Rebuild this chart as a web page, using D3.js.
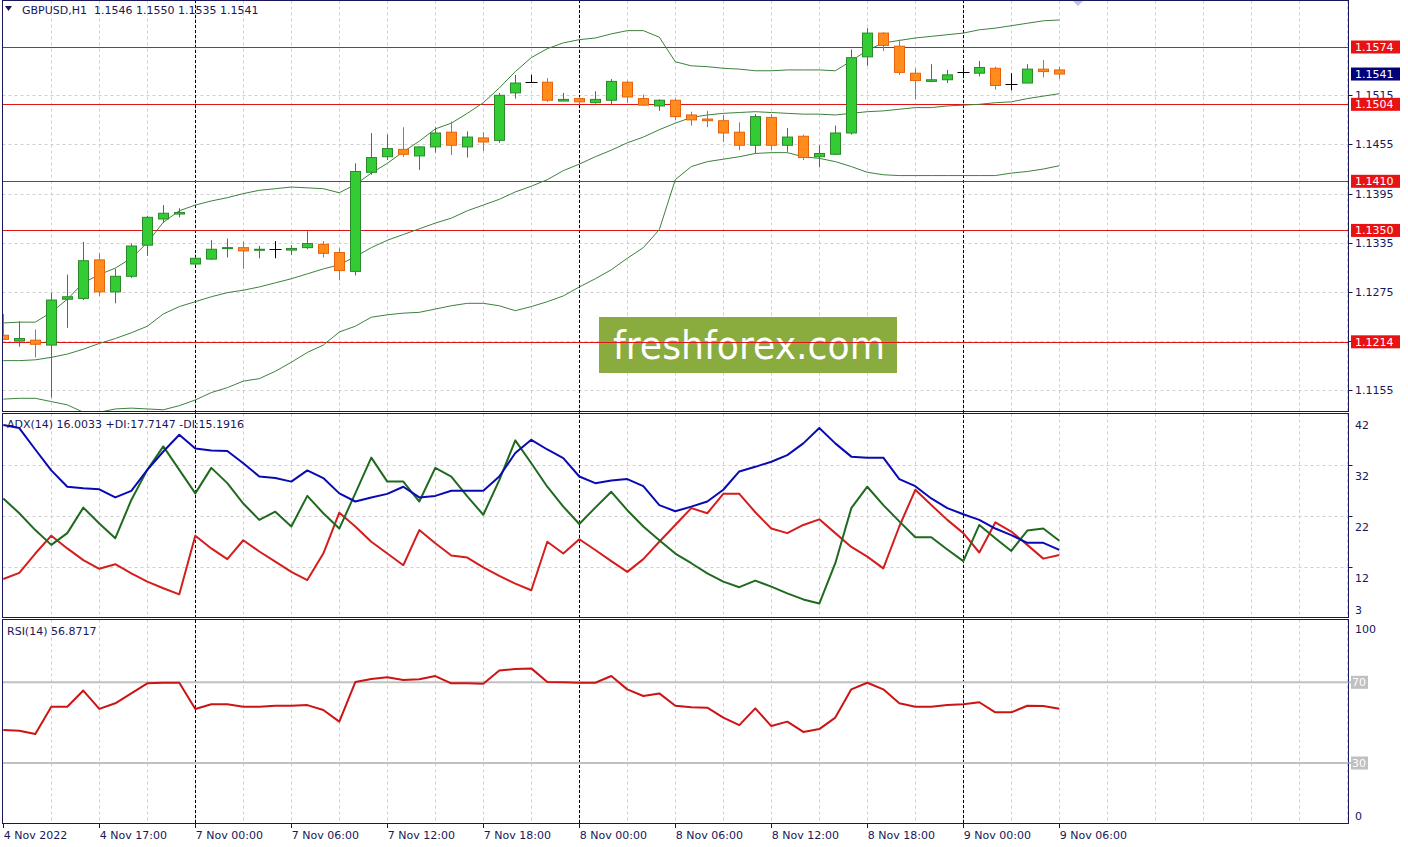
<!DOCTYPE html>
<html><head><meta charset="utf-8">
<script src="https://cdn.jsdelivr.net/npm/d3@7"></script>
<style>body{margin:0;background:#fff;} svg{display:block;font-family:"DejaVu Sans",sans-serif;}</style>
</head><body><svg id="c" width="1408" height="847"></svg>
<script>
// ---------------- DATA ----------------
const symbolTitle = "GBPUSD,H1  1.1546 1.1550 1.1535 1.1541";
const adxTitle = "ADX(14) 16.0033 +DI:17.7147 -DI:15.1916";
const rsiTitle = "RSI(14) 56.8717";
const opens  = [1.1222,1.1215,1.1216,1.1210,1.1266,1.1267,1.1314,1.1275,1.1294,1.1332,1.1364,1.1370,
  1.1309,1.1315,1.1328,1.1329,1.1326,1.1327,1.1326,1.1329,1.1333,1.1323,1.1300,1.1421,1.1440,1.1449,1.1441,1.1452,1.1470,1.1452,1.1463,1.1460,1.1518,1.1531,1.1531,1.1508,
  1.1511,1.1506,1.1509,1.1531,1.1511,1.1502,1.1509,1.1491,1.1486,1.1484,1.1470,1.1454,1.1488,1.1454,1.1465,1.1440,1.1443,1.1469,1.1562,1.1591,1.1575,1.1542,1.1532,1.1534,
  1.1543,1.1542,1.1548,1.1529,1.1530,1.1547,1.1546];
const highs  = [1.1248,1.1239,1.1229,1.1274,1.1296,1.1336,1.1322,1.1303,1.1334,1.1368,1.1381,1.1377,
  1.1317,1.1338,1.1340,1.1336,1.1331,1.1337,1.1332,1.1349,1.1337,1.1328,1.1432,1.1469,1.1467,1.1476,1.1453,1.1476,1.1483,1.1471,1.1470,1.1518,1.1540,1.1540,1.1536,1.1518,
  1.1513,1.1520,1.1535,1.1533,1.1516,1.1510,1.1511,1.1495,1.1496,1.1491,1.1482,1.1492,1.1492,1.1475,1.1467,1.1454,1.1478,1.1571,1.1597,1.1592,1.1583,1.1548,1.1553,1.1546,
  1.1550,1.1557,1.1550,1.1542,1.1553,1.1558,1.1550];
const lows   = [1.1216,1.1208,1.1195,1.1146,1.1231,1.1265,1.1270,1.1261,1.1292,1.1319,1.1359,1.1366,
  1.1308,1.1314,1.1317,1.1303,1.1316,1.1316,1.1320,1.1327,1.1317,1.1289,1.1295,1.1418,1.1436,1.1440,1.1424,1.1445,1.1442,1.1439,1.1447,1.1457,1.1511,1.1530,1.1507,1.1508,
  1.1504,1.1505,1.1504,1.1506,1.1502,1.1496,1.1485,1.1478,1.1476,1.1458,1.1448,1.1444,1.1448,1.1446,1.1436,1.1427,1.1442,1.1467,1.1551,1.1569,1.1540,1.1510,1.1531,1.1530,
  1.1536,1.1538,1.1522,1.1521,1.1530,1.1537,1.1535];
const closes = [1.1217,1.1218,1.1211,1.1265,1.1269,1.1313,1.1275,1.1294,1.1331,1.1366,1.1371,1.1372,
  1.1316,1.1327,1.1329,1.1325,1.1327,1.1327,1.1328,1.1334,1.1322,1.1301,1.1422,1.1439,1.1450,1.1443,1.1452,1.1469,1.1454,1.1464,1.1458,1.1515,1.1530,1.1531,1.1509,1.1510,
  1.1507,1.1510,1.1532,1.1513,1.1503,1.1509,1.1489,1.1485,1.1484,1.1469,1.1454,1.1489,1.1454,1.1464,1.1439,1.1444,1.1469,1.1561,1.1591,1.1576,1.1543,1.1533,1.1534,1.1540,
  1.1543,1.1549,1.1527,1.1529,1.1547,1.1544,1.1541];
const bbUpper = [1.1237,1.1238,1.1238,1.1250,1.1266,1.1286,1.1296,1.1304,1.1316,1.1335,1.1360,1.1374,
  1.1381,1.1386,1.1390,1.1395,1.1399,1.1401,1.1403,1.1402,1.1401,1.1396,1.1406,1.1420,1.1432,1.1446,1.1459,1.1474,1.1481,1.1493,1.1506,1.1524,1.1544,1.1561,1.1572,1.1579,
  1.1583,1.1585,1.1590,1.1594,1.1594,1.1586,1.1556,1.1551,1.1550,1.1548,1.1547,1.1545,1.1545,1.1546,1.1546,1.1546,1.1545,1.1557,1.1570,1.1579,1.1582,1.1585,1.1587,1.1589,
  1.1591,1.1595,1.1597,1.1600,1.1603,1.1606,1.1607];
const bbMiddle = [1.1191,1.1191,1.1192,1.1195,1.1199,1.1205,1.1212,1.1218,1.1225,1.1233,1.1248,1.1257,
  1.1263,1.1269,1.1274,1.1277,1.1281,1.1286,1.1291,1.1297,1.1303,1.1308,1.1318,1.1329,1.1338,1.1345,1.1352,1.1359,1.1365,1.1374,1.1381,1.1388,1.1397,1.1404,1.1412,1.1423,
  1.1431,1.1440,1.1448,1.1457,1.1464,1.1473,1.1481,1.1488,1.1491,1.1493,1.1494,1.1495,1.1494,1.1493,1.1492,1.1492,1.1491,1.1493,1.1495,1.1496,1.1498,1.1500,1.1500,1.1502,
  1.1503,1.1504,1.1506,1.1507,1.1511,1.1514,1.1517];
const bbLower = [1.1144,1.1145,1.1145,1.1141,1.1137,1.1128,1.1128,1.1132,1.1133,1.1132,1.1131,1.1136,
  1.1143,1.1152,1.1158,1.1166,1.1169,1.1178,1.1189,1.1201,1.1210,1.1226,1.1233,1.1244,1.1247,1.1249,1.1250,1.1254,1.1258,1.1261,1.1261,1.1258,1.1252,1.1257,1.1263,1.1270,
  1.1281,1.1291,1.1302,1.1316,1.1329,1.1351,1.1412,1.1428,1.1434,1.1437,1.1440,1.1444,1.1445,1.1445,1.1440,1.1438,1.1434,1.1428,1.1421,1.1418,1.1417,1.1417,1.1417,1.1417,
  1.1417,1.1417,1.1417,1.1420,1.1422,1.1425,1.1429];
const adx = [39.9,39.3,35.1,31.0,27.8,27.5,27.3,25.7,27.0,31.1,34.7,38.0,
  35.3,34.9,34.8,32.4,29.8,29.5,28.8,31.0,29.5,26.5,24.9,25.7,26.4,27.8,25.7,26.0,27.0,27.0,27.0,29.8,34.4,37.0,35.1,33.4,
  29.8,28.5,29.0,29.3,27.9,24.2,23.0,23.9,24.9,27.2,30.8,31.7,32.7,34.0,36.3,39.3,36.3,33.7,33.5,33.5,29.3,27.9,25.5,23.6,
  22.4,21.3,19.6,18.3,16.8,16.8,15.4];
const plusDI = [25.5,22.6,19.3,16.4,18.7,23.7,20.6,17.7,25.2,31.1,35.7,31.1,
  26.5,31.5,28.5,24.5,21.3,22.9,20.0,26.0,22.6,19.6,26.5,33.5,28.8,28.8,24.9,31.5,29.8,25.9,22.3,29.1,36.9,32.4,27.8,23.9,
  20.5,23.7,26.8,23.2,20.0,17.3,14.7,12.8,10.8,9.2,8.1,9.4,8.2,6.9,5.7,4.9,12.8,23.6,27.8,24.2,21.0,17.9,17.9,15.5,
  13.2,20.3,17.7,15.2,19.2,19.6,17.2];
const minusDI = [9.7,10.9,14.7,18.2,15.7,13.4,11.7,12.6,10.8,9.2,7.9,6.7,
  18.2,15.7,13.6,17.3,15.1,13.1,11.1,9.5,14.7,22.7,20.0,17.0,14.7,12.4,19.3,16.7,14.3,13.9,12.0,10.3,8.8,7.5,17.0,14.7,
  17.5,15.4,13.2,11.1,13.6,17.0,20.3,23.6,22.6,26.4,26.4,22.8,19.6,18.7,20.3,21.4,18.7,16.0,14.1,11.8,20.0,27.2,24.2,21.3,
  18.7,14.9,20.8,19.0,16.4,13.7,14.4];
const rsi = [46.3,46.0,44.4,57.9,57.9,65.9,56.8,59.6,64.5,69.5,69.8,69.8,
  56.8,59.1,59.1,57.9,57.9,58.4,58.4,58.7,56.3,50.5,70.1,71.6,72.5,71.1,71.5,73.1,69.5,69.5,69.3,75.8,76.6,76.9,70.1,70.0,
  69.8,69.8,73.1,66.5,63.2,64.5,58.4,57.6,57.4,52.5,48.8,57.1,48.3,50.5,45.4,46.8,52.5,66.5,69.8,66.5,59.6,57.9,57.9,58.7,
  59.1,60.1,55.1,55.1,58.4,58.2,56.87];
const timeLabels = ["4 Nov 2022","4 Nov 17:00","7 Nov 00:00","7 Nov 06:00","7 Nov 12:00","7 Nov 18:00",
  "8 Nov 00:00","8 Nov 06:00","8 Nov 12:00","8 Nov 18:00","9 Nov 00:00","9 Nov 06:00"];
const timeLabelBars = [0,6,12,18,24,30,36,42,48,54,60,66];
const daySeparatorBars = [12,36,60];
const priceTicks = [1.1515,1.1455,1.1395,1.1335,1.1275,1.1215,1.1155];
const levelLines = [1.1574,1.1504,1.1410,1.1350,1.1214];
const lastPrice = 1.1541;
const adxTicks = [42,32,22,12,3];
const rsiTicks = [100,70,30,0];
const rsiLevels = [70,30];

// ---------------- LAYOUT ----------------
const svg = d3.select('#c');
const L = 2.5, R = 1348.5;
const P = {main:[0.5,411.5], adx:[413.5,617.5], rsi:[619.5,823.5]};
const x = d3.scaleLinear().domain([0,84]).range([3.3,1347.3]);
const yP = d3.scaleLinear().domain([1.11295,1.16314]).range([411,0]);
const yA = d3.scaleLinear().domain([12,42]).range([567.3,414.3]);
const yR = d3.scaleLinear().domain([30,70]).range([763,682.3]);
const navy = "#17175a", gridCol = "#cfcfcf";
const px = v => Math.round(v)+0.5;

const defs = svg.append('defs');
Object.entries(P).forEach(([k,[t,b]])=>{
  defs.append('clipPath').attr('id','clip-'+k).append('rect')
    .attr('x',L).attr('y',t).attr('width',R-L).attr('height',b-t);
});

// vertical grid
const vg = d3.range(3,85,3).filter(i=>x(i)<R-1);
Object.entries(P).forEach(([k,[t,b]])=>{
  svg.append('g').selectAll('line').data(vg).join('line')
    .attr('x1',d=>px(x(d))).attr('x2',d=>px(x(d))).attr('y1',t).attr('y2',b)
    .attr('stroke',gridCol).attr('stroke-dasharray','3,3');
});
// horizontal grid main
svg.append('g').attr('clip-path','url(#clip-main)').selectAll('line').data(priceTicks).join('line')
  .attr('x1',L).attr('x2',R).attr('y1',d=>px(yP(d))).attr('y2',d=>px(yP(d)))
  .attr('stroke',gridCol).attr('stroke-dasharray','3,3');
// horizontal grid adx
svg.append('g').selectAll('line').data([32,22,12]).join('line')
  .attr('x1',L).attr('x2',R).attr('y1',d=>px(yA(d))).attr('y2',d=>px(yA(d)))
  .attr('stroke',gridCol).attr('stroke-dasharray','3,3');
// day separators
svg.append('g').selectAll('line').data(daySeparatorBars).join('line')
  .attr('x1',d=>px(x(d))).attr('x2',d=>px(x(d))).attr('y1',0).attr('y2',824)
  .attr('stroke','#000').attr('stroke-dasharray','3,2');

// ---------------- MAIN PANE ----------------
const gm = svg.append('g').attr('clip-path','url(#clip-main)');
// watermark
gm.append('rect').attr('x',599).attr('y',317).attr('width',298).attr('height',56).attr('fill','#8aab3d');
gm.append('text').attr('x',613).attr('y',359).attr('fill','#fff').attr('font-size',39)
  .attr('textLength',272).attr('lengthAdjust','spacingAndGlyphs').text('freshforex.com');
// level lines
gm.selectAll('line.lvl').data(levelLines).join('line').attr('class','lvl')
  .attr('x1',L).attr('x2',R).attr('y1',d=>px(yP(d))).attr('y2',d=>px(yP(d)))
  .attr('stroke','#e01414').attr('stroke-width',1);
// bollinger bands
const bbLine = arr => d3.line().x((d,i)=>x(i)).y(d=>yP(d))(arr);
[bbUpper,bbMiddle,bbLower].forEach(arr=>{
  gm.append('path').attr('d',bbLine(arr)).attr('fill','none').attr('stroke','#3d803d').attr('stroke-width',1);
});
// candles
const bars = d3.range(opens.length).map(i=>({i,o:opens[i],h:highs[i],l:lows[i],c:closes[i]}));
const colOf = d => d.c>d.o ? ['#2a8a2a','#34cc34'] : d.c<d.o ? ['#e8620c','#ff8c1c'] : ['#000',null];
const cg = gm.append('g').selectAll('g').data(bars).join('g');
cg.append('line').attr('x1',d=>px(x(d.i))).attr('x2',d=>px(x(d.i)))
  .attr('y1',d=>yP(d.h)).attr('y2',d=>yP(d.l)).attr('stroke',d=>colOf(d)[0]);
cg.filter(d=>d.c!==d.o).append('rect')
  .attr('x',d=>Math.round(x(d.i))-5+0.5).attr('width',10)
  .attr('y',d=>yP(Math.max(d.o,d.c)))
  .attr('height',d=>Math.max(1,yP(Math.min(d.o,d.c))-yP(Math.max(d.o,d.c))))
  .attr('fill',d=>colOf(d)[1]).attr('stroke',d=>colOf(d)[0]);
cg.filter(d=>d.c===d.o).append('line')
  .attr('x1',d=>px(x(d.i))-6).attr('x2',d=>px(x(d.i))+6)
  .attr('y1',d=>px(yP(d.o))).attr('y2',d=>px(yP(d.o))).attr('stroke','#000');
// shift marker
svg.append('path').attr('d','M1072,0 L1084,0 L1078,6 Z').attr('fill','#b9c6de');

// ---------------- ADX PANE ----------------
const ga = svg.append('g').attr('clip-path','url(#clip-adx)');
const adxLine = d3.line().x((d,i)=>x(i)).y(d=>yA(d));
[[minusDI,'#d41e1e'],[plusDI,'#1f6a1f'],[adx,'#0a0ab4']].forEach(([arr,c])=>{
  ga.append('path').attr('d',adxLine(arr)).attr('fill','none').attr('stroke',c).attr('stroke-width',2).attr('stroke-linejoin','round');
});

// ---------------- RSI PANE ----------------
const gr = svg.append('g').attr('clip-path','url(#clip-rsi)');
gr.selectAll('line').data(rsiLevels).join('line')
  .attr('x1',L).attr('x2',R).attr('y1',d=>yR(d)).attr('y2',d=>yR(d))
  .attr('stroke','#c0c0c0').attr('stroke-width',2);
gr.append('path').attr('d',d3.line().x((d,i)=>x(i)).y(d=>yR(d))(rsi))
  .attr('fill','none').attr('stroke','#cc1414').attr('stroke-width',2).attr('stroke-linejoin','round');

// ---------------- FRAMES ----------------
Object.values(P).forEach(([t,b])=>{
  svg.append('rect').attr('x',L).attr('y',t).attr('width',R-L).attr('height',b-t)
    .attr('fill','none').attr('stroke',navy).attr('stroke-width',1);
});

// ---------------- AXES / LABELS ----------------
const ax = svg.append('g').attr('font-size',11).attr('fill',navy);
// price ticks
ax.selectAll('line.pt').data(priceTicks).join('line').attr('class','pt')
  .attr('x1',R).attr('x2',R+4).attr('y1',d=>px(yP(d))).attr('y2',d=>px(yP(d))).attr('stroke',navy);
ax.selectAll('text.pt').data(priceTicks).join('text').attr('class','pt')
  .attr('x',1355).attr('y',d=>yP(d)).attr('dy','0.36em').text(d=>d.toFixed(4));
// level labels
const lv = svg.append('g').attr('font-size',11);
lv.selectAll('rect').data(levelLines).join('rect')
  .attr('x',1351).attr('y',d=>yP(d)-6.5).attr('width',49).attr('height',13).attr('fill','#e81212');
lv.selectAll('text').data(levelLines).join('text')
  .attr('x',1355).attr('y',d=>yP(d)).attr('dy','0.36em').attr('fill','#fff').text(d=>d.toFixed(4));
lv.append('rect').attr('x',1351).attr('y',yP(lastPrice)-6.5).attr('width',49).attr('height',13).attr('fill','#00007a');
lv.append('text').attr('x',1355).attr('y',yP(lastPrice)).attr('dy','0.36em').attr('fill','#fff').text(lastPrice.toFixed(4));
// adx ticks
ax.selectAll('line.at').data(adxTicks.slice(1,4)).join('line').attr('class','at')
  .attr('x1',R).attr('x2',R+4).attr('y1',d=>px(yA(d))).attr('y2',d=>px(yA(d))).attr('stroke',navy);
ax.selectAll('text.at').data(adxTicks).join('text').attr('class','at')
  .attr('x',1355).attr('y',d=>Math.min(yA(d)+10.5,610)).attr('dy','0.36em').text(d=>d);
// rsi ticks
ax.selectAll('text.rt').data([100,0]).join('text').attr('class','rt')
  .attr('x',1355).attr('y',d=>d===100?629:816).attr('dy','0.36em').text(d=>d);
const rl = svg.append('g').attr('font-size',11);
rl.selectAll('line').data(rsiLevels).join('line').attr('x1',R).attr('x2',1352)
  .attr('y1',d=>yR(d)).attr('y2',d=>yR(d)).attr('stroke','#c0c0c0').attr('stroke-width',2);
rl.selectAll('rect').data(rsiLevels).join('rect')
  .attr('x',1351).attr('y',d=>yR(d)-6.5).attr('width',17).attr('height',13).attr('fill','#c0c0c0');
rl.selectAll('text').data(rsiLevels).join('text')
  .attr('x',1352).attr('y',d=>yR(d)).attr('dy','0.36em').attr('fill','#fff').text(d=>d);
// time axis
ax.selectAll('line.tt').data(timeLabelBars).join('line').attr('class','tt')
  .attr('x1',d=>px(x(d))).attr('x2',d=>px(x(d))).attr('y1',824).attr('y2',828).attr('stroke',navy);
ax.selectAll('text.tt').data(timeLabelBars).join('text').attr('class','tt')
  .attr('x',d=>x(d)+0.5).attr('y',839).text((d,k)=>timeLabels[k]);

// titles
svg.append('path').attr('d','M5,6 L12,6 L8.5,11 Z').attr('fill',navy);
svg.append('text').attr('x',22).attr('y',14).attr('font-size',11).attr('fill',navy).attr('xml:space','preserve').style('white-space','pre').text(symbolTitle);
svg.append('text').attr('x',7).attr('y',428).attr('font-size',11).attr('fill',navy).text(adxTitle);
svg.append('text').attr('x',7).attr('y',635).attr('font-size',11).attr('fill',navy).text(rsiTitle);
</script></body></html>
